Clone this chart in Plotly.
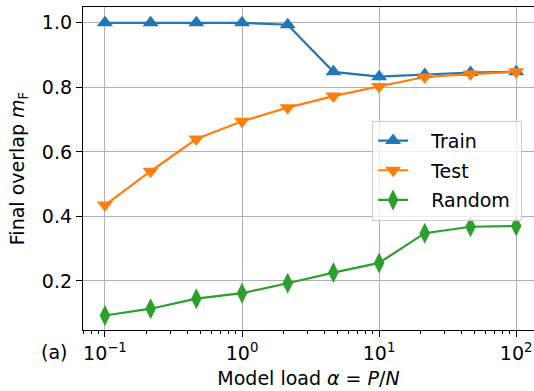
import plotly.graph_objects as go

alpha = [0.1, 0.2154, 0.4642, 1.0, 2.154, 4.642, 10.0, 21.54, 46.42, 100.0]
train = [1.0, 1.0, 1.0, 1.0, 0.994, 0.848, 0.833, 0.840, 0.846, 0.848]
test = [0.435, 0.540, 0.640, 0.695, 0.737, 0.773, 0.803, 0.832, 0.841, 0.848]
random_ = [0.093, 0.114, 0.145, 0.162, 0.193, 0.226, 0.256, 0.348, 0.368, 0.370]

xtick_vals = [0.1, 1, 10, 100]
xtick_text = ["10<sup>−1</sup>", "10<sup>0</sup>", "10<sup>1</sup>", "10<sup>2</sup>"]
ytick_vals = [0.2, 0.4, 0.6, 0.8, 1.0]

FONT = "DejaVu Sans"
FS = 19
PAD = "\u00a0\u00a0\u00a0"
fig = go.Figure()
series = [
    ("Train", train, "#1f77b4", "triangle-up", 14),
    ("Test", test, "#ff7f0e", "triangle-down", 14),
    ("Random", random_, "#2ca02c", "diamond-tall", 15),
]
for name, vals, color, sym, sz in series:
    fig.add_trace(go.Scatter(
        x=alpha, y=vals, name=PAD + name + "\u00a0", legendgroup=name,
        mode="lines+markers",
        line=dict(color=color, width=2.2),
        marker=dict(symbol=sym, size=sz, color=color),
    ))

fig.update_layout(
    width=534, height=391,
    margin=dict(l=83, r=0, t=7, b=61),
    paper_bgcolor="white", plot_bgcolor="white",
    font=dict(family=FONT, size=FS, color="black"),
    showlegend=True,
    legend=dict(
        x=0.641, y=0.648, xanchor="left", yanchor="top",
        bgcolor="rgba(255,255,255,0.8)", bordercolor="#cccccc", borderwidth=1,
        font=dict(family=FONT, size=FS), tracegroupgap=2,
    ),
    annotations=[dict(
        text="(a)", xref="paper", yref="paper", x=-0.097, y=-0.068,
        xanchor="left", yanchor="middle", showarrow=False,
        font=dict(family=FONT, size=FS),
    )],
)
fig.update_xaxes(
    type="log", range=[-1.16, 2.13],
    tickvals=xtick_vals, ticktext=xtick_text,
    ticks="outside", ticklen=6, tickwidth=1, tickcolor="black",
    showline=True, linecolor="black", linewidth=1.3, mirror=True,
    showgrid=True, gridcolor="#b0b0b0", gridwidth=1,
    minor=dict(ticks="outside", ticklen=3, tickcolor="black", showgrid=False,
               tickvals=[m * 10 ** e for e in (-2, -1, 0, 1, 2) for m in range(2, 10)]),
    title=dict(text="Model load <i>α</i> = <i>P</i>/<i>N</i>", font=dict(size=FS), standoff=8),
    zeroline=False,
)
fig.update_yaxes(
    range=[0.048, 1.049],
    tickvals=ytick_vals, tickformat=".1f",
    ticks="outside", ticklen=6, tickwidth=1, tickcolor="black",
    showline=True, linecolor="black", linewidth=1.3, mirror=False,
    showgrid=True, gridcolor="#b0b0b0", gridwidth=1,
    title=dict(text="Final overlap <i>m</i><sub>F</sub>", font=dict(size=FS), standoff=12),
    zeroline=False,
)
fig.write_html("out.html")
